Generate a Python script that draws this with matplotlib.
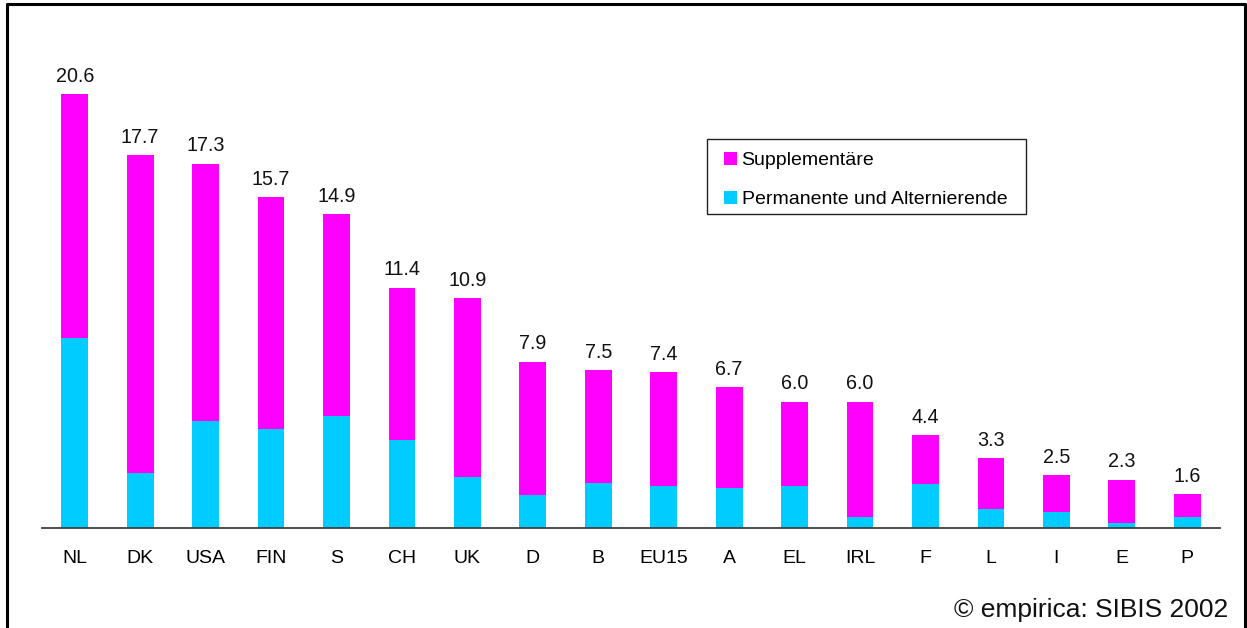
import matplotlib
matplotlib.use("Agg")
import matplotlib.pyplot as plt
from matplotlib.patches import Patch, Rectangle
from matplotlib.lines import Line2D
import numpy as np

plt.rcParams['font.family'] = ['Liberation Sans', 'DejaVu Sans']

countries = ["NL", "DK", "USA", "FIN", "S", "CH", "UK", "D", "B", "EU15",
             "A", "EL", "IRL", "F", "L", "I", "E", "P"]
totals = [20.6, 17.7, 17.3, 15.7, 14.9, 11.4, 10.9, 7.9, 7.5, 7.4,
          6.7, 6.0, 6.0, 4.4, 3.3, 2.5, 2.3, 1.6]
permanent = [9.0, 2.6, 5.1, 4.7, 5.3, 4.2, 2.4, 1.55, 2.15, 2.0,
             1.9, 2.0, 0.5, 2.1, 0.9, 0.75, 0.25, 0.5]
supplementary = [round(t - p, 2) for t, p in zip(totals, permanent)]

MAGENTA = "#FF00FF"
CYAN = "#00CCFF"

W, H = 1247, 628
fig = plt.figure(figsize=(W / 100, H / 100), dpi=100)
ax = fig.add_axes([42 / W, 1 - 528 / H, (1220 - 42) / W, (528 - 64.5) / H])

x = np.arange(len(countries))
ax.bar(x, permanent, width=0.41, color=CYAN, linewidth=0)
ax.bar(x, supplementary, bottom=permanent, width=0.41, color=MAGENTA, linewidth=0)

for xi, t in zip(x, totals):
    ax.annotate(f"{t:.1f}", (xi, t), xytext=(0, 6), textcoords="offset points",
                ha="center", va="bottom", fontsize=14.2, color="#111111")

ax.set_xlim(-0.5, len(countries) - 0.5)
ax.set_ylim(0, 22)
ax.set_xticks(x)
ax.set_xticklabels(countries, fontsize=14)
ax.tick_params(axis="x", length=0, pad=15.5)
ax.set_yticks([])
for s in ["top", "right", "left"]:
    ax.spines[s].set_visible(False)
ax.spines["bottom"].set_color("#404040")
ax.spines["bottom"].set_linewidth(1.3)

# legend box
fig.add_artist(Rectangle((707 / W, 1 - 214 / H), (1026 - 707) / W, (214 - 139) / H,
                         transform=fig.transFigure, facecolor="white",
                         edgecolor="#222222", linewidth=1.0))
handles = [Patch(facecolor=MAGENTA, edgecolor="none", label="Supplementäre"),
           Patch(facecolor=CYAN, edgecolor="none", label="Permanente und Alternierende")]
leg = fig.legend(handles=handles, loc="upper left",
                 bbox_to_anchor=(724 / W, 1 - 152 / H), borderaxespad=0,
                 fontsize=14, handlelength=0.65, handleheight=0.65,
                 handletextpad=0.25, labelspacing=1.1, borderpad=0.0,
                 frameon=False)

fig.text(1228 / W, 1 - 610 / H, "© empirica: SIBIS 2002", ha="right", va="center",
         fontsize=19, color="#111111")

# outer frame (bottom edge outside the picture)
frame = Line2D([7 / W, 7 / W, 1244.5 / W, 1244.5 / W],
               [-0.05, 1 - 4 / H, 1 - 4 / H, -0.05],
               transform=fig.transFigure, color="black", linewidth=2.2)
fig.add_artist(frame)

fig.savefig("out.png", dpi=100)
